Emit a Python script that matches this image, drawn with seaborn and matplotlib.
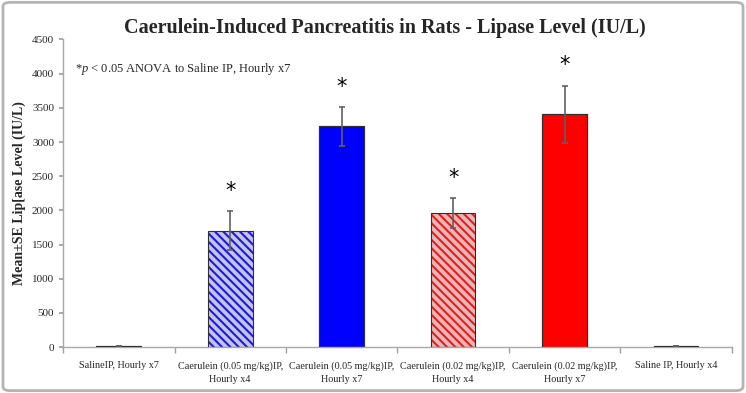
import matplotlib
matplotlib.use('Agg')
import matplotlib.pyplot as plt
import seaborn as sns
import pandas as pd
from matplotlib.patches import Rectangle, FancyBboxPatch

# Data
groups = [
    'SalineIP, Hourly x7',
    'Caerulein (0.05 mg/kg)IP,\nHourly x4',
    'Caerulein (0.05 mg/kg)IP,\nHourly x7',
    'Caerulein (0.02 mg/kg)IP,\nHourly x4',
    'Caerulein (0.02 mg/kg)IP,\nHourly x7',
    'Saline IP, Hourly x4',
]
lipase_mean = [15, 1705, 3230, 1960, 3405, 15]
lipase_se = [0, 280, 285, 215, 420, 0]
significant = [False, True, True, True, True, False]

face_colors = ['#404040', '#C3C3EC', '#0000FF', '#E8B6B6', '#FF0000', '#404040']
hatch_colors = [None, '#1C1CD8', None, '#E02020', None, None]

sns.set_theme(style='white')
plt.rcParams['font.family'] = ['Liberation Serif', 'DejaVu Serif']
plt.rcParams['mathtext.fontset'] = 'custom'
plt.rcParams['mathtext.it'] = 'Liberation Serif:italic'
plt.rcParams['mathtext.rm'] = 'Liberation Serif'
plt.rcParams['hatch.linewidth'] = 1.5

df = pd.DataFrame({'group': groups, 'lipase': lipase_mean})

fig = plt.figure(figsize=(7.46, 3.93), dpi=100)
ax = fig.add_axes([0.0845, 0.117, 0.8965, 0.7825])

sns.barplot(data=df, x='group', y='lipase', hue='group', palette=face_colors,
            legend=False, errorbar=None, width=0.4, ax=ax, saturation=1)

for patch, hc in zip(ax.patches, hatch_colors):
    if hc is not None:
        patch.set_hatch('\\\\\\\\')
        patch.set_edgecolor(hc)
        patch.set_linewidth(0)
    else:
        patch.set_edgecolor('#303030')
        patch.set_linewidth(0.8)
    # dark outline on top of every bar
    ax.add_patch(Rectangle(patch.get_xy(), patch.get_width(), patch.get_height(),
                           fill=False, edgecolor='#303030', linewidth=0.8, zorder=3))

xs = range(len(groups))
ax.errorbar(xs, lipase_mean, yerr=lipase_se, fmt='none', ecolor='#606060',
            elinewidth=1.2, capsize=2.5, capthick=1.2, zorder=4)

for x, m, se, sig in zip(xs, lipase_mean, lipase_se, significant):
    if sig:
        ax.text(x, m + se + 150, '*', ha='center', va='bottom',
                fontsize=15, family='DejaVu Sans', color='black')

ax.set_ylim(0, 4500)
ax.set_xlim(-0.5, len(groups) - 0.5)
ax.set_yticks(range(0, 4501, 500))
ax.tick_params(axis='y', labelsize=8, length=3, color='#a0a0a0', direction='out', left=True)
ax.set_xticks([x - 0.5 for x in xs] + [len(groups) - 0.5], minor=True)
ax.set_xticks(list(xs))
ax.set_xticklabels(groups, fontsize=7.3, linespacing=1.6)
ax.tick_params(axis='x', which='major', length=0, pad=10)
ax.tick_params(axis='x', which='minor', length=4, color='#a0a0a0', bottom=True)
ax.set_xlabel('')
ax.set_ylabel('Mean\u00b1SE Lip[ase Level (IU/L)', fontsize=10, fontweight='bold')

for side in ['top', 'right']:
    ax.spines[side].set_visible(False)
for side in ['left', 'bottom']:
    ax.spines[side].set_color('#a8a8a8')
    ax.spines[side].set_linewidth(1.0)

ax.text(0.018, 0.905, '*$p$ < 0.05 ANOVA to Saline IP, Hourly x7', transform=ax.transAxes,
        fontsize=9, ha='left', va='center')

fig.text(0.516, 0.928, 'Caerulein-Induced Pancreatitis in Rats - Lipase Level (IU/L)',
         ha='center', va='center', fontsize=14.5, fontweight='bold')

fig.patches.append(FancyBboxPatch((0.004, 0.006), 0.992, 0.988, boxstyle='round,pad=0,rounding_size=0.01',
                                  transform=fig.transFigure, fill=False,
                                  edgecolor='#b4b4b4', linewidth=2))

fig.savefig('out.png', dpi=100)
